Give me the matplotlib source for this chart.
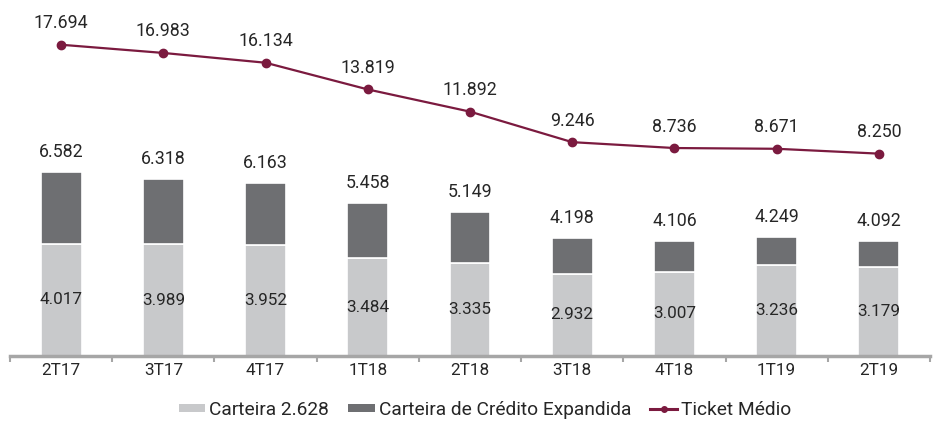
import matplotlib
matplotlib.use("Agg")
import matplotlib.pyplot as plt
from matplotlib.patches import Patch
from matplotlib.lines import Line2D

plt.rcParams['font.family'] = ['Roboto', 'DejaVu Sans']

categories = ["2T17", "3T17", "4T17", "1T18", "2T18", "3T18", "4T18", "1T19", "2T19"]
carteira = [4.017, 3.989, 3.952, 3.484, 3.335, 2.932, 3.007, 3.236, 3.179]
total = [6.582, 6.318, 6.163, 5.458, 5.149, 4.198, 4.106, 4.249, 4.092]
ticket = [17.694, 16.983, 16.134, 13.819, 11.892, 9.246, 8.736, 8.671, 8.250]
expandida = [t - c for t, c in zip(total, carteira)]

def fmt(v):
    return f"{v:.3f}"

c_light = "#c8c9cb"
c_dark = "#6e6f72"
c_line = "#7b1a3f"
c_text = "#262626"
FS = 12.3
FS_VAL = 12.8
FS_LEG = 13.8

fig = plt.figure(figsize=(9.38, 4.21), dpi=100)
ax = fig.add_axes([10/938, (421-356)/421, 920/938, 336/421])
x = list(range(len(categories)))

ax.bar(x, carteira, width=0.4, color=c_light, edgecolor="white", linewidth=1.2, zorder=2)
ax.bar(x, expandida, bottom=carteira, width=0.4, color=c_dark, edgecolor="white", linewidth=1.2, zorder=2)

for xi, c, t in zip(x, carteira, total):
    ax.text(xi, c / 2, fmt(c), ha="center", va="center", fontsize=FS, color=c_text, zorder=3)
    ax.annotate(fmt(t), (xi, t), xytext=(0, 8), textcoords="offset points",
                ha="center", va="bottom", fontsize=FS_VAL, color=c_text)

ax.set_xlim(-0.45, 8.4)
ax.set_ylim(0, 12)
ax.set_xticks(x)
ax.set_xticklabels(categories, fontsize=FS, color=c_text)
ax.set_xticks([i + 0.5 for i in range(-1, 9)], minor=True)
ax.tick_params(axis="x", which="major", length=0, pad=5)
ax.tick_params(axis="x", which="minor", length=4, width=1.5, color="#a6a6a6", direction="out")
ax.set_yticks([])
for s in ["top", "right", "left"]:
    ax.spines[s].set_visible(False)
ax.spines["bottom"].set_color("#a6a6a6")
ax.spines["bottom"].set_linewidth(2.5)

ax2 = ax.twinx()
ax2.plot(x, ticket, color=c_line, linewidth=1.6, marker="o", markersize=6, zorder=4)
for xi, v in zip(x, ticket):
    ax2.annotate(fmt(v), (xi, v), xytext=(0, 9), textcoords="offset points",
                 ha="center", va="bottom", fontsize=FS_VAL, color=c_text)
ax2.set_ylim(-9.3, 19.84)
ax2.set_yticks([])
for s in ["top", "right", "left", "bottom"]:
    ax2.spines[s].set_visible(False)

handles = [
    Patch(facecolor=c_light, edgecolor="none"),
    Patch(facecolor=c_dark, edgecolor="none"),
    Line2D([0], [0], color=c_line, linewidth=2.2, marker="o", markersize=4),
]
labels = ["Carteira 2.628", "Carteira de Crédito Expandida", "Ticket Médio"]
fig.legend(handles, labels, loc="center", bbox_to_anchor=(0.517, (421-410)/421),
           ncol=3, frameon=False, fontsize=FS_LEG, handlelength=1.4, handleheight=0.3,
           handletextpad=0.2, columnspacing=1.0, labelcolor=c_text)

fig.savefig("out.png", dpi=100)
